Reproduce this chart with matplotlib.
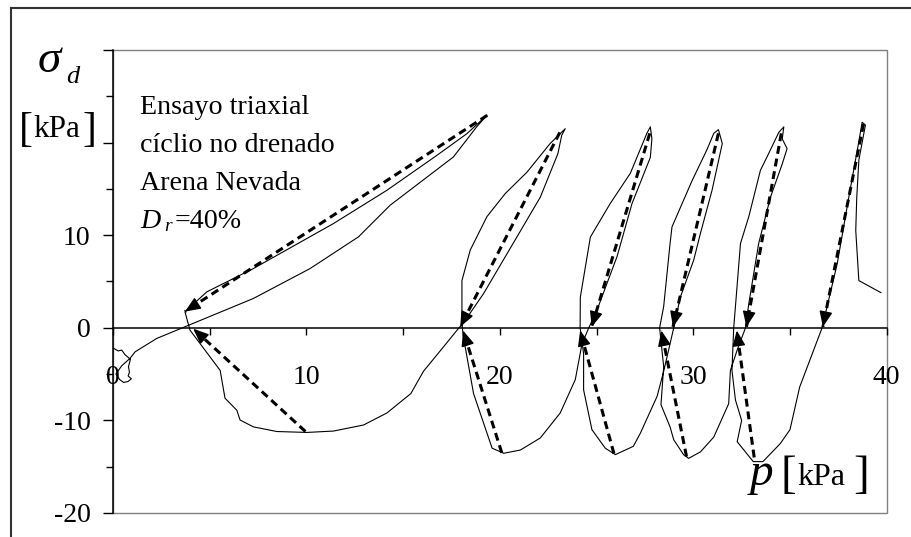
import matplotlib
matplotlib.use("Agg")
import matplotlib.pyplot as plt
from matplotlib.lines import Line2D
from matplotlib.patches import Rectangle
from matplotlib.ticker import MultipleLocator, FixedLocator
import numpy as np

plt.rcParams['font.family'] = ['Liberation Serif', 'DejaVu Serif']

# Effective stress path of the cyclic undrained triaxial test: p [kPa], sigma_d [kPa]
p_path = [39.7, 38.56, 38.4, 38.45, 38.56, 38.9, 38.73, 38.55, 38.04, 37.44, 36.66,
          35.5, 35.0, 34.5, 33.6, 33.1, 32.27, 32.5, 32.18, 32.0, 32.09,
          32.18, 32.44, 32.87, 33.47, 33.8, 34.42, 34.68, 34.6, 34.85, 34.6,
          33.99, 33.38, 32.87, 32.7, 32.27, 31.92, 31.83, 31.06, 30.37, 29.76,
          29.5, 28.99, 28.8, 28.33, 28.47, 28.26,
          28.47, 28.8, 28.9, 29.94, 30.7, 31.06, 31.3, 31.5, 30.97, 30.37,
          30.02, 29.33, 28.99, 28.47, 28.13, 27.26, 26.9, 25.97, 25.45, 24.76,
          24.33, 24.33, 24.15,
          24.16, 24.68, 25.7, 26.75, 27.6, 27.78, 27.86, 27.78, 26.83, 26.06,
          25.02, 24.6, 24.25, 23.9, 23.12, 22.09, 21.06, 20.2, 19.6, 19.16,
          18.64, 18.1, 18.04,
          18.04, 18.47, 19.33, 20.28, 21.4, 22.6, 23.38, 23.2, 23.0, 22.09,
          20.88, 19.16, 18.04, 17.86, 17.09, 16.05, 15.4, 14.16, 12.95, 11.4,
          10.02, 8.47, 7.26, 6.57, 6.4, 5.79, 5.54, 4.5, 3.98, 3.72,
          4.85, 7.26, 11.4, 14.16, 16.75, 18.3, 19.33, 18.8, 17.6, 14.33,
          12.69, 10.19, 7.26, 3.64, 2.26, 1.14, 0.88, 0.45, 0.15, 0.35,
          0.55, 0.78, 0.95, 0.78, 0.85, 0.8, 0.9, 0.62, 0.45, 0.27, 0.02]
q_path = [3.8, 5.1, 10.5, 14.0, 18.1, 21.9, 22.2, 20.0, 14.1, 6.9, 0.0,
          -6.4, -11.0, -12.5, -14.45, -14.45, -12.3, -10.0, -7.8, -4.6, 0.0,
          2.3, 9.1, 12.0, 17.0, 18.4, 21.1, 21.7, 20.4, 19.35, 17.7,
          14.1, 9.1, 2.6, 0.0, -2.4, -4.6, -8.2, -11.8, -13.4, -14.1,
          -13.7, -12.1, -10.7, -8.3, -4.2, 0.0,
          2.3, 9.1, 10.9, 15.9, 19.2, 21.0, 21.4, 19.9, 14.85, 10.2,
          7.3, 3.3, 0.0, -4.7, -7.4, -11.4, -12.8, -13.7, -13.0, -11.0,
          -6.7, -2.8, 0.0,
          3.3, 9.8, 13.4, 16.7, 21.0, 21.7, 20.4, 18.4, 13.4, 7.7,
          1.9, 0.0, -1.7, -5.6, -9.2, -11.9, -13.2, -13.55, -13.0, -10.3,
          -7.1, -0.8, 0.5,
          5.1, 8.4, 12.0, 14.5, 16.8, 19.9, 21.5, 20.8, 18.8, 14.1,
          9.8, 3.7, 0.3, -0.07, -2.05, -4.7, -7.1, -9.2, -10.5, -11.15,
          -11.3, -11.2, -10.7, -9.96, -8.9, -7.6, -4.6, -1.7, -0.25, 1.73,
          3.88, 6.4, 11.26, 14.85, 18.63, 20.97, 22.95, 21.7, 18.45, 13.24,
          9.82, 6.4, 3.17, 0.04, -1.15, -2.6, -3.3, -4.1, -5.0, -5.6,
          -5.9, -5.8, -5.5, -5.2, -4.8, -4.2, -3.4, -2.9, -2.4, -2.5, -2.2]

# Idealised loading directions (dashed arrows): start -> end
arrow_p_start = [19.35, 9.95, 23.1, 20.1, 27.75, 25.9, 31.3, 29.65, 34.55, 33.15, 38.8]
arrow_q_start = [22.95, -11.2, 21.1, -13.5, 21.0, -13.6, 21.0, -13.9, 21.0, -14.0, 22.0]
arrow_p_end = [3.72, 4.15, 17.95, 18.1, 24.75, 24.15, 28.95, 28.35, 32.75, 32.25, 36.7]
arrow_q_end = [1.75, -0.1, 0.1, -0.3, 0.1, -0.3, 0.1, -0.3, 0.1, -0.3, 0.1]

x_major = [0, 10, 20, 30, 40]
y_major = [-20, -10, 0, 10, 20, 30]
y_labels = ['-20', '-10', '0', '10', '', '']

info_lines = ['Ensayo triaxial', 'cíclio no drenado', 'Arena Nevada']

W, H = 911, 537
fig = plt.figure(figsize=(W / 100, H / 100), dpi=100)
ax = fig.add_axes([113 / W, (H - 513) / H, (886.7 - 113) / W, (513 - 50) / H])
ax.set_xlim(0, 40)
ax.set_ylim(-20, 30)


def fx(x):
    return x / W


def fy(y):
    return 1 - y / H


# spines: y axis on the left, x axis through sigma_d = 0
ax.spines['top'].set_visible(False)
ax.spines['right'].set_visible(False)
ax.spines['bottom'].set_position(('data', 0))
for s in ('left', 'bottom'):
    ax.spines[s].set_linewidth(1.1)
    ax.spines[s].set_color('black')
    ax.spines[s].set_zorder(4)
ax.add_patch(Rectangle((0, 0), 1, 1, transform=ax.transAxes, fill=False,
                       ec='#808080', lw=1.0, clip_on=False, zorder=1))

ax.xaxis.set_major_locator(FixedLocator(x_major))
ax.xaxis.set_minor_locator(MultipleLocator(5))
ax.set_xticklabels([str(v) for v in x_major])
ax.yaxis.set_major_locator(FixedLocator(y_major))
ax.yaxis.set_minor_locator(MultipleLocator(5))
ax.set_yticklabels(y_labels)
ax.tick_params(axis='x', which='both', direction='out', length=5, width=1.0,
               labelsize=20, pad=21.5)
ax.tick_params(axis='y', which='major', direction='out', length=7.2, width=1.0,
               labelsize=20, pad=9)
ax.tick_params(axis='y', which='minor', direction='out', length=5, width=1.0)

# stress path
ax.plot(p_path, q_path, color='black', lw=0.8, zorder=3, clip_on=False)

# dashed direction arrows
for p0, q0, p1, q1 in zip(arrow_p_start, arrow_q_start, arrow_p_end, arrow_q_end):
    ax.plot([p0, p1], [q0, q1], color='black', lw=2.2, ls=(0, (2.6, 1.6)),
            dash_capstyle='butt', zorder=5)
    a = ax.transData.transform((p0, q0))
    b = ax.transData.transform((p1, q1))
    d = (b - a) / np.hypot(*(b - a))
    back = ax.transData.inverted().transform(b - d * 14)
    ax.annotate('', xy=(p1, q1), xytext=back,
                arrowprops=dict(arrowstyle='-|>,head_length=9.5,head_width=4',
                                mutation_scale=1, color='black', lw=1,
                                shrinkA=0, shrinkB=0), zorder=6)

# annotation text
for i, line in enumerate(info_lines):
    fig.text(fx(140), fy(114 + 38 * i), line, fontsize=20.2, va='baseline', ha='left')
fig.text(fx(140), fy(228), 'D', fontsize=20.2, style='italic', va='baseline')
fig.text(fx(164), fy(231), 'r', fontsize=14, style='italic', va='baseline')
fig.text(fx(175), fy(228), '=40%', fontsize=20.2, va='baseline')

# y axis title
fig.text(fx(38), fy(72), 'σ', fontsize=34, style='italic', va='baseline')
fig.text(fx(66), fy(83), 'd', fontsize=19, style='italic', va='baseline')
fig.text(fx(19), fy(141), '[', fontsize=30, va='baseline')
fig.text(fx(33), fy(137), 'kPa', fontsize=22.5, va='baseline')
fig.text(fx(83), fy(141), ']', fontsize=30, va='baseline')

# x axis title
fig.text(fx(750), fy(485), 'p', fontsize=34, style='italic', va='baseline')
fig.text(fx(781), fy(488), '[', fontsize=34, va='baseline')
fig.text(fx(797), fy(485), 'kPa', fontsize=23, va='baseline')
fig.text(fx(853), fy(488), ']', fontsize=34, va='baseline')

# outer frame
fig.add_artist(Line2D([fx(11), fx(11)], [0, fy(8)], color='#333333', lw=1.5))
fig.add_artist(Line2D([fx(11), 1], [fy(8), fy(8)], color='#333333', lw=1.5))

fig.savefig('out.png', dpi=100)
